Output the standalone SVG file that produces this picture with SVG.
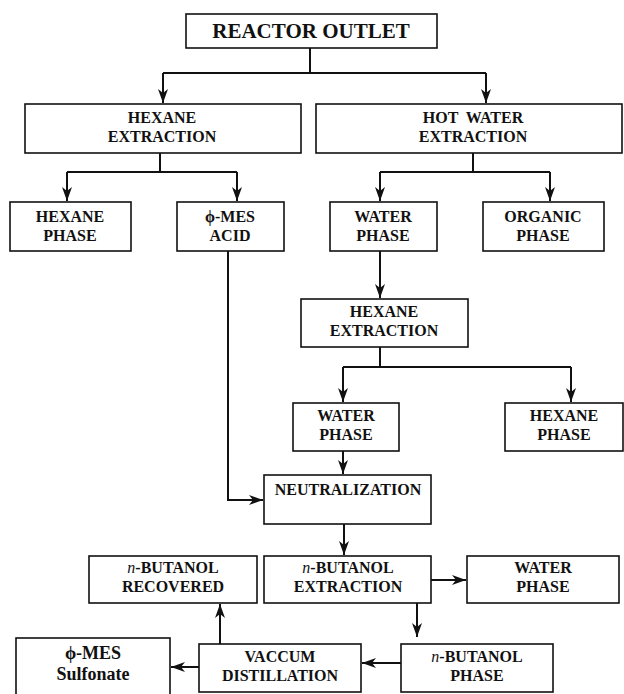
<svg xmlns="http://www.w3.org/2000/svg" width="624" height="694" viewBox="0 0 624 694">
<style>
.box{fill:#fff;stroke:#111;stroke-width:1.6}
.t{font-family:"Liberation Serif","Times New Roman",serif;font-weight:bold;font-size:16px;fill:#111;text-anchor:middle}
.big{font-size:21px}
.mid{font-size:18px}
.it{font-style:italic;font-weight:normal}
.c{fill:none;stroke:#111;stroke-width:2}
.a{marker-end:url(#ah)}
</style>
<defs>
<marker id="ah" markerUnits="userSpaceOnUse" markerWidth="14" markerHeight="10" refX="14" refY="5" orient="auto">
<path d="M0,0 L14,5 L0,10 L4,5 z" fill="#111"/>
</marker>
</defs>
<rect width="624" height="694" fill="#fff"/>
<g id="connectors">
<path class="c" d="M310,48 V73 M163,73 H486"/>
<path class="c a" d="M163,73 V103"/>
<path class="c a" d="M486,73 V103"/>
<path class="c" d="M160,153 V172 M67,172 H237"/>
<path class="c a" d="M67,172 V201"/>
<path class="c a" d="M237,172 V201"/>
<path class="c" d="M473,153 V172 M380,172 H550"/>
<path class="c a" d="M380,172 V201"/>
<path class="c a" d="M550,172 V201"/>
<path class="c a" d="M380,251 V298"/>
<path class="c" d="M380,347 V367 M343,367 H571"/>
<path class="c a" d="M343,367 V402"/>
<path class="c a" d="M571,367 V402"/>
<path class="c a" d="M228,251 V500 H263"/>
<path class="c a" d="M343,451 V474"/>
<path class="c a" d="M344,524 V555"/>
<path class="c a" d="M425,580 H466"/>
<path class="c a" d="M417,603 V637"/>
<path class="c a" d="M401,663 H362"/>
<path class="c a" d="M220,644 V604"/>
<path class="c a" d="M199,667 H171"/>
</g>
<g id="reactor-outlet"><rect class="box" x="186" y="14" width="251" height="34"/><text class="t big" x="311" y="38">REACTOR OUTLET</text></g>
<g id="hexane-extraction-1"><rect class="box" x="25" y="104" width="276" height="49"/><text class="t" x="162" y="123">HEXANE</text><text class="t" x="162" y="142">EXTRACTION</text></g>
<g id="hot-water-extraction"><rect class="box" x="316" y="104" width="306" height="49"/><text class="t" x="473" y="123" xml:space="preserve">HOT  WATER</text><text class="t" x="473" y="142">EXTRACTION</text></g>
<g id="hexane-phase-1"><rect class="box" x="10" y="202" width="121" height="49"/><text class="t" x="70" y="222">HEXANE</text><text class="t" x="70" y="241">PHASE</text></g>
<g id="mes-acid"><rect class="box" x="177" y="202" width="107" height="49"/><text class="t" x="230" y="222">ϕ-MES</text><text class="t" x="230" y="241">ACID</text></g>
<g id="water-phase-1"><rect class="box" x="330" y="202" width="107" height="49"/><text class="t" x="383" y="222">WATER</text><text class="t" x="383" y="241">PHASE</text></g>
<g id="organic-phase"><rect class="box" x="483" y="202" width="121" height="49"/><text class="t" x="543" y="222">ORGANIC</text><text class="t" x="543" y="241">PHASE</text></g>
<g id="hexane-extraction-2"><rect class="box" x="301" y="299" width="167" height="48"/><text class="t" x="384" y="317">HEXANE</text><text class="t" x="384" y="336">EXTRACTION</text></g>
<g id="water-phase-2"><rect class="box" x="293" y="403" width="106" height="48"/><text class="t" x="346" y="421">WATER</text><text class="t" x="346" y="440">PHASE</text></g>
<g id="hexane-phase-2"><rect class="box" x="505" y="403" width="118" height="48"/><text class="t" x="564" y="421">HEXANE</text><text class="t" x="564" y="440">PHASE</text></g>
<g id="neutralization"><rect class="box" x="264" y="475" width="167" height="49"/><text class="t" x="348" y="495">NEUTRALIZATION</text></g>
<g id="butanol-recovered"><rect class="box" x="89" y="556" width="168" height="47"/><text class="t" x="173" y="573"><tspan class="it">n</tspan>-BUTANOL</text><text class="t" x="173" y="592">RECOVERED</text></g>
<g id="butanol-extraction"><rect class="box" x="264" y="556" width="167" height="47"/><text class="t" x="348" y="573"><tspan class="it">n</tspan>-BUTANOL</text><text class="t" x="348" y="592">EXTRACTION</text></g>
<g id="water-phase-3"><rect class="box" x="467" y="556" width="152" height="47"/><text class="t" x="543" y="573">WATER</text><text class="t" x="543" y="592">PHASE</text></g>
<g id="butanol-phase"><rect class="box" x="401" y="644" width="152" height="48"/><text class="t" x="477" y="662"><tspan class="it">n</tspan>-BUTANOL</text><text class="t" x="477" y="681">PHASE</text></g>
<g id="vaccum-distillation"><rect class="box" x="199" y="644" width="162" height="48"/><text class="t" x="280" y="662">VACCUM</text><text class="t" x="280" y="681">DISTILLATION</text></g>
<g id="mes-sulfonate"><rect class="box" x="16" y="638" width="154" height="60"/><text class="t mid" x="93" y="659">ϕ-MES</text><text class="t mid" x="93" y="680">Sulfonate</text></g>
</svg>
